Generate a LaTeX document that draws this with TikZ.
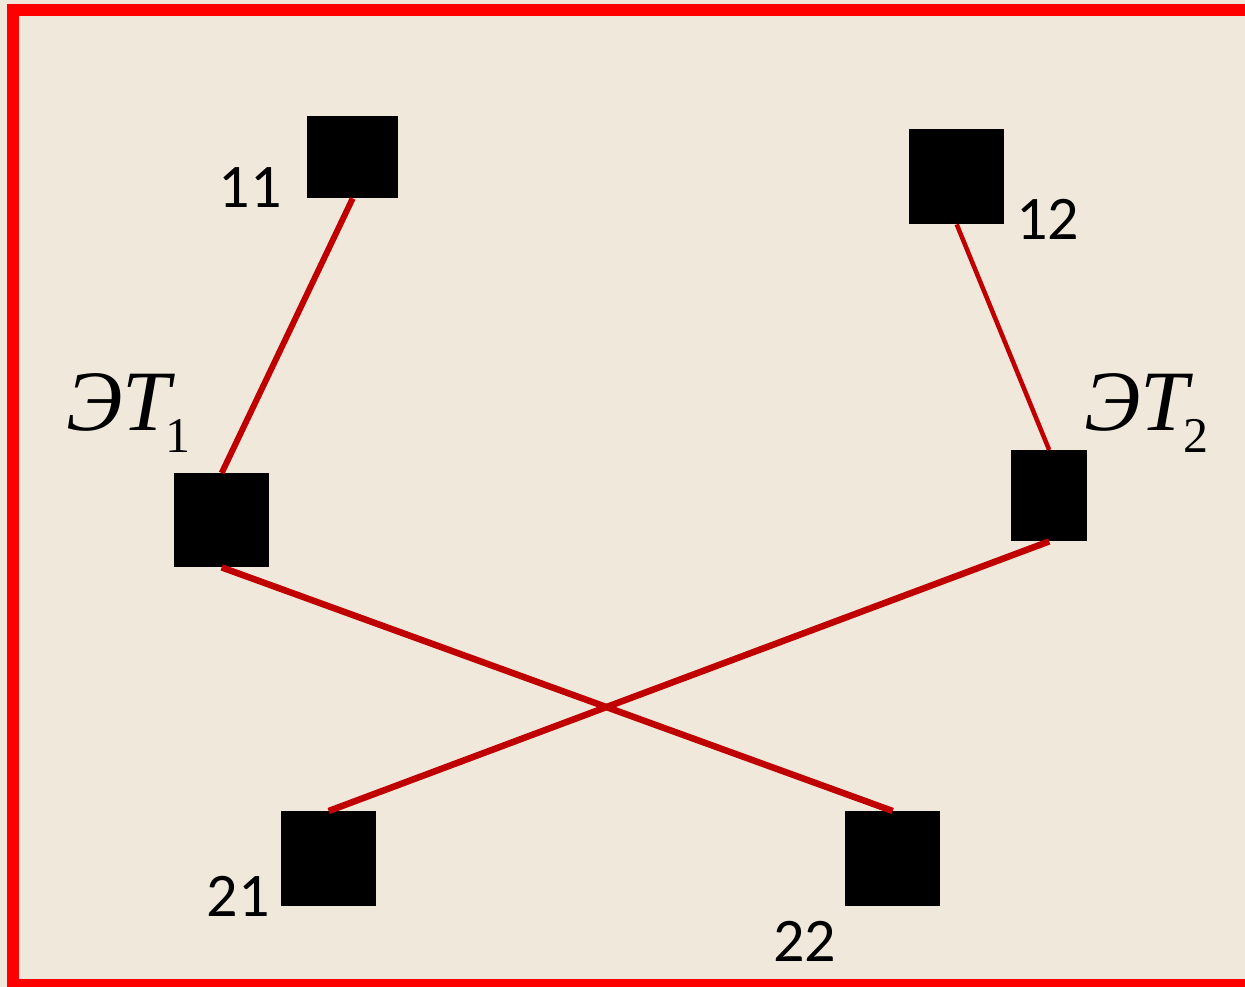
\documentclass[tikz,border=0pt]{standalone}
\usepackage{fontspec}
\newfontfamily\numfont{Carlito}
\newfontfamily\serfont{Liberation Serif}
\definecolor{paper}{HTML}{F1E8DC}
\definecolor{frame}{HTML}{FF0000}
\definecolor{wire}{HTML}{C00000}
\begin{document}
\begin{tikzpicture}[x=1pt,y=-1pt,
  blk/.style={draw=none,fill=black,minimum width=#1,minimum height=#1,inner sep=0pt,anchor=north west},
  num/.style={inner sep=0pt,font=\numfont\fontsize{62}{62}\selectfont},
  etlab/.style={inner sep=0pt,anchor=base west,font=\serfont\fontsize{86}{86}\selectfont},
  link/.style={wire,line width=#1,line cap=butt}]
\useasboundingbox (0,0) rectangle (1245,987);
\clip (0,0) rectangle (1245,987);
\fill[paper] (0,0) rectangle (1245,987);
\draw[frame,line width=12pt] (13,10) rectangle (1270,985);

% terminals and station blocks
\node[blk=91pt,minimum height=82pt] (b11) at (307,116) {};
\node[blk=95pt] (b12) at (909,129) {};
\node[blk=95pt,minimum height=94pt] (et1) at (174,473) {};
\node[blk=76pt,minimum height=91pt] (et2) at (1011,450) {};
\node[blk=95pt] (b21) at (281,811) {};
\node[blk=95pt] (b22) at (845,811) {};

% connections
\draw[link=6pt] (b11.south) -- (et1.north);
\draw[link=4.5pt] (b12.south) -- (et2.north);
\draw[link=6.5pt] (et1.south) -- (b22.north);
\draw[link=6.5pt] (et2.south) -- (b21.north);

% labels
\node[num,anchor=base east] (l11) at (282,208) {11};
\node[num,anchor=base west] (l12) at (1016,240) {12};
\node[num,anchor=base east] (l21) at (270,916) {21};
\node[num,anchor=base west] (l22) at (773,961) {22};
\node[etlab] (t1) at (66,430) {\itshape ЭT\kern-5pt\raisebox{-22pt}{\upshape\fontsize{50}{50}\selectfont 1}};
\node[etlab] (t2) at (1084,430) {\itshape ЭT\kern-5pt\raisebox{-22pt}{\upshape\fontsize{50}{50}\selectfont 2}};
\end{tikzpicture}
\end{document}
